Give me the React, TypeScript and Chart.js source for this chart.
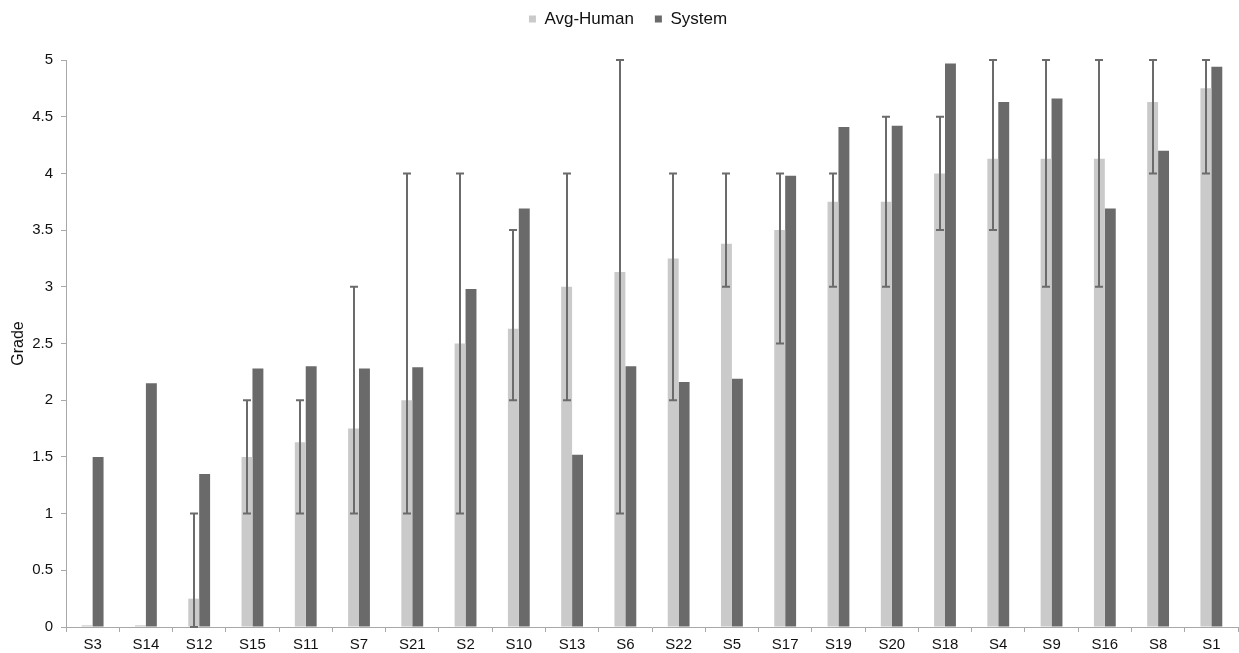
import React, { useEffect, useRef } from "react";
import { Chart, registerables } from "chart.js";

Chart.register(...registerables);

// Scenario labels, ordered by average human grade
const categories = [
  "S3", "S14", "S12", "S15", "S11", "S7", "S21", "S2", "S10", "S13", "S6",
  "S22", "S5", "S17", "S19", "S20", "S18", "S4", "S9", "S16", "S8", "S1",
];

const avgHuman = [
  0.015, 0.015, 0.25, 1.5, 1.63, 1.75, 2.0, 2.5, 2.63, 3.0, 3.13,
  3.25, 3.38, 3.5, 3.75, 3.75, 4.0, 4.13, 4.13, 4.13, 4.63, 4.75,
];

const systemGrade = [
  1.5, 2.15, 1.35, 2.28, 2.3, 2.28, 2.29, 2.98, 3.69, 1.52, 2.3,
  2.16, 2.19, 3.98, 4.41, 4.42, 4.97, 4.63, 4.66, 3.69, 4.2, 4.94,
];

// Range of the individual human grades (min / max) per scenario
const humanMin = [
  null, null, 0, 1, 1, 1, 1, 1, 2, 2, 1,
  2, 3, 2.5, 3, 3, 3.5, 3.5, 3, 3, 4, 4,
];
const humanMax = [
  null, null, 1, 2, 2, 3, 4, 4, 3.5, 4, 5,
  4, 4, 4, 4, 4.5, 4.5, 5, 5, 5, 5, 5,
];

const yTicks = [0, 0.5, 1, 1.5, 2, 2.5, 3, 3.5, 4, 4.5, 5];

const LIGHT = "#cacaca";
const DARK = "#6a6a6a";
const ERR = "#6b6b6b";
const LEGEND_PAD = 21;

const errorBars = {
  id: "errorBars",
  afterDatasetsDraw(chart: any) {
    const meta = chart.getDatasetMeta(0);
    const y = chart.scales.y;
    const ctx = chart.ctx;
    ctx.save();
    ctx.strokeStyle = ERR;
    ctx.lineWidth = 2;
    meta.data.forEach((bar: any, i: number) => {
      const lo = humanMin[i];
      const hi = humanMax[i];
      if (lo == null || hi == null) return;
      const x = Math.round(bar.x);
      const yLo = y.getPixelForValue(lo);
      const yHi = y.getPixelForValue(hi);
      ctx.beginPath();
      ctx.moveTo(x, yLo);
      ctx.lineTo(x, yHi);
      ctx.moveTo(x - 4, yLo);
      ctx.lineTo(x + 4, yLo);
      ctx.moveTo(x - 4, yHi);
      ctx.lineTo(x + 4, yHi);
      ctx.stroke();
    });
    ctx.restore();
  },
};

// Lift the legend row closer to the top edge and nudge it right
const legendOffset = {
  id: "legendOffset",
  afterLayout(chart: any) {
    const lg = chart.legend;
    if (!lg) return;
    lg.top -= 22.5;
    lg.bottom -= 22.5;
    lg.left += 9;
    lg.right += 9;
  },
};

export default function App() {
  const canvasRef = useRef<HTMLCanvasElement | null>(null);

  useEffect(() => {
    if (!canvasRef.current) return;
    Chart.defaults.font.family = "'Liberation Sans', Arial, Helvetica, sans-serif";
    Chart.defaults.color = "#1a1a1a";

    const chart = new Chart(canvasRef.current, {
      type: "bar",
      data: {
        labels: categories,
        datasets: [
          {
            label: "Avg-Human",
            data: avgHuman,
            backgroundColor: LIGHT,
            categoryPercentage: 0.41,
            barPercentage: 1.0,
          },
          {
            label: "System",
            data: systemGrade,
            backgroundColor: DARK,
            categoryPercentage: 0.41,
            barPercentage: 1.0,
          },
        ],
      },
      options: {
        animation: false,
        responsive: true,
        maintainAspectRatio: false,
        layout: { padding: { top: 12, left: 0, right: 1, bottom: 0 } },
        plugins: {
          tooltip: { enabled: false },
          legend: {
            position: "top",
            labels: {
              boxWidth: 7,
              boxHeight: 7,
              padding: LEGEND_PAD,
              color: "#111",
              font: { size: 17 },
            },
          },
        },
        scales: {
          x: {
            afterFit(scale: any) {
              scale.height = 26;
            },
            grid: {
              drawOnChartArea: false,
              drawTicks: true,
              tickLength: 5,
              color: "#a8a8a8",
              offset: true,
            },
            border: { color: "#a8a8a8", width: 1 },
            ticks: {
              autoSkip: false,
              maxRotation: 0,
              padding: 4,
              font: { size: 15 },
              color: "#111",
            },
          },
          y: {
            min: 0,
            max: 5,
            afterFit(scale: any) {
              scale.width = 66;
            },
            afterBuildTicks(scale: any) {
              scale.ticks = yTicks.map((v) => ({ value: v }));
            },
            grid: {
              drawOnChartArea: false,
              drawTicks: true,
              tickLength: 5,
              color: "#a8a8a8",
            },
            border: { color: "#a8a8a8", width: 1 },
            ticks: {
              padding: 8,
              font: { size: 15 },
              color: "#111",
              callback: (v: any) => String(v),
            },
            title: {
              display: true,
              text: "Grade",
              font: { size: 16 },
              color: "#111",
              padding: { top: 9, bottom: 0 },
            },
          },
        },
      },
      plugins: [errorBars, legendOffset],
    });

    return () => chart.destroy();
  }, []);

  return (
    <div
      style={{
        position: "fixed",
        left: 0,
        top: 0,
        width: 1239,
        height: 653,
        background: "#fff",
      }}
    >
      <canvas ref={canvasRef} />
    </div>
  );
}
